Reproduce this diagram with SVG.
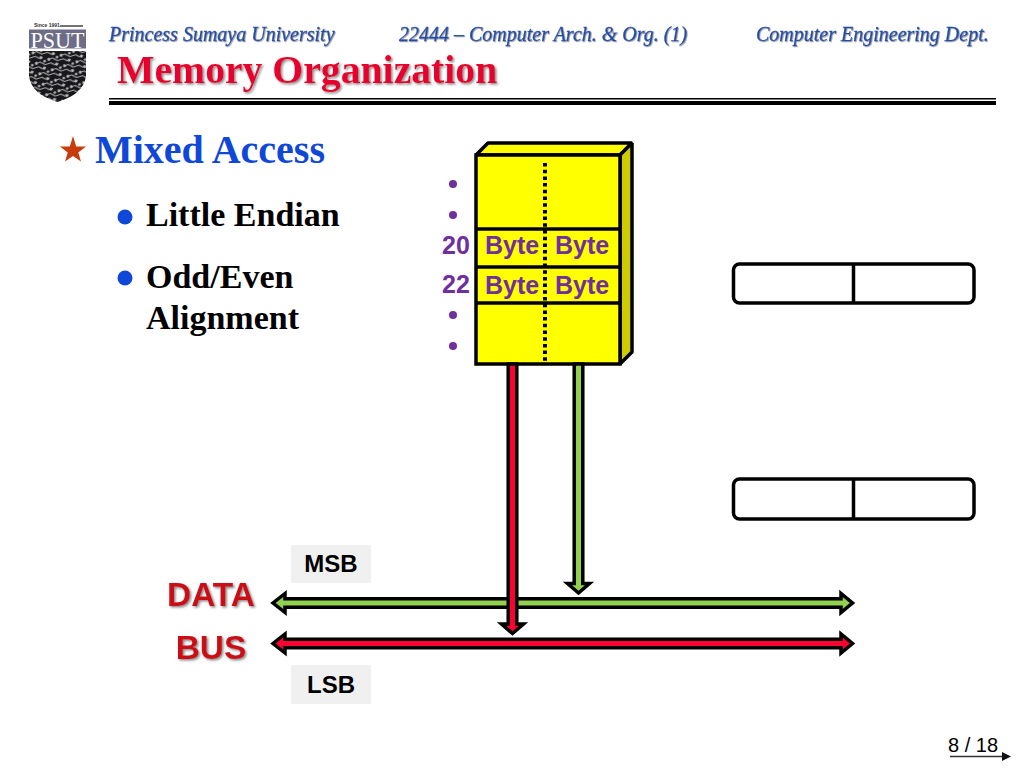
<svg xmlns="http://www.w3.org/2000/svg" width="1024" height="768" viewBox="0 0 1024 768">
<defs>
<filter id="sh" x="-5%" y="-20%" width="110%" height="140%"><feDropShadow dx="1.500" dy="1.500" stdDeviation="0.800" flood-color="#888"/></filter>
<filter id="soft" x="-5%" y="-20%" width="110%" height="140%"><feDropShadow dx="0.800" dy="0.800" stdDeviation="0.500" flood-color="#9a9a9a"/></filter>
<pattern id="circuit" width="13" height="11" patternUnits="userSpaceOnUse" patternTransform="rotate(-18 57 75)">
<rect width="13" height="11" fill="#17171b"/>
<path d="M1 2.500H6L10 6.500H13M0 6.500H3L6 9.500H10" fill="none" stroke="#a6a6a6" stroke-width="1.100"/>
<circle cx="2" cy="2.500" r="1.500" fill="#bdbdbd"/><circle cx="8" cy="9.500" r="1.500" fill="#bdbdbd"/><circle cx="10.500" cy="3" r="1.300" fill="#bdbdbd"/>
</pattern>
</defs>
<style>
.hdr{font:italic 400 20px "Liberation Serif",serif;fill:#1f4fa8;stroke:#1f4fa8;stroke-width:.3}
.bold{font-family:"Liberation Serif",serif;font-weight:700}
.sans{font-family:"Liberation Sans",sans-serif;font-weight:700}
.pur{fill:#6f2f9f;font-size:25px}
.arr{stroke:#000;stroke-width:3.500;stroke-linejoin:miter}
.reg{fill:#fff;stroke:#000;stroke-width:3.500}
.cell{stroke:#000;stroke-width:3.500}
</style>
<rect width="1024" height="768" fill="#fff"/>
<g id="logo">
<text x="34" y="27" font-family="Liberation Sans,sans-serif" font-weight="700" font-size="5" fill="#333">Since 1991</text>
<line x1="60" y1="26" x2="83" y2="26" stroke="#444" stroke-width="1.500"/>
<rect x="29" y="29.500" width="57" height="19" fill="#6d6d88"/>
<text x="57.500" y="47.500" text-anchor="middle" font-family="Liberation Serif,serif" font-size="23" textLength="54" lengthAdjust="spacingAndGlyphs" fill="#fff">PSUT</text>
<path d="M29 51H86V76Q84 94 57.500 102Q31 94 29 76Z" fill="url(#circuit)"/>
</g>
<g id="header">
<text class="hdr" x="109" y="41" filter="url(#soft)">Princess Sumaya University</text>
<text class="hdr" x="399" y="41" filter="url(#soft)">22444 – Computer Arch. &amp; Org. (1)</text>
<text class="hdr" x="756" y="41" filter="url(#soft)">Computer Engineering Dept.</text>
<text class="bold" x="117" y="83" font-size="39.700" fill="#e8002d" filter="url(#sh)">Memory Organization</text>
<rect x="109" y="98" width="887" height="1.500" fill="#000"/>
<rect x="109" y="101" width="887" height="4" fill="#000"/>
</g>
<g id="bullets">
<path d="M73 136L76.200 146.500H86L78.300 152.500L81 161.500L73 156L65 161.500L67.700 152.500L60 146.500H69.800Z" fill="#c83c0c"/>
<text class="bold" x="95" y="163" font-size="40" fill="#0f47d8">Mixed Access</text>
<circle cx="125" cy="217" r="7.500" fill="#0f47d8"/>
<text class="bold" x="146" y="226" font-size="34" fill="#000">Little Endian</text>
<circle cx="125" cy="278" r="7.500" fill="#0f47d8"/>
<text class="bold" x="146" y="288" font-size="34" fill="#000">Odd/Even</text>
<text class="bold" x="146" y="329" font-size="34" fill="#000">Alignment</text>
</g>
<g id="memory">
<path d="M476 155L488 143H632L620 155Z" fill="#ffff00" stroke="#000" stroke-width="3.500" stroke-linejoin="bevel"/>
<path d="M620 155L632 143V352L620 364Z" fill="#cccc00" stroke="#000" stroke-width="3.500" stroke-linejoin="bevel"/>
<rect x="476" y="155" width="144" height="209" fill="#ffff00" stroke="#000" stroke-width="3.500"/>
<line class="cell" x1="476" y1="229" x2="620" y2="229"/>
<line class="cell" x1="476" y1="267" x2="620" y2="267"/>
<line class="cell" x1="476" y1="303" x2="620" y2="303"/>
<line x1="545" y1="163" x2="545" y2="361" stroke="#000" stroke-width="4" stroke-dasharray="3.500 3.200"/>
<g class="sans pur">
<text x="442" y="254">20</text><text x="442" y="293">22</text>
<text x="485" y="254">Byte</text><text x="555" y="254">Byte</text>
<text x="485" y="294">Byte</text><text x="555" y="294">Byte</text>
</g>
<g fill="#6f2f9f"><circle cx="453" cy="184" r="4"/><circle cx="453" cy="215" r="4"/><circle cx="453" cy="315" r="4"/><circle cx="453" cy="346" r="4"/></g>
</g>
<g id="registers">
<rect class="reg" x="733.500" y="264" width="240.500" height="39" rx="6"/>
<line x1="853.500" y1="264" x2="853.500" y2="303" stroke="#000" stroke-width="3.500"/>
<rect class="reg" x="733.500" y="479" width="240.500" height="40" rx="6"/>
<line x1="853.500" y1="479" x2="853.500" y2="519" stroke="#000" stroke-width="3.500"/>
</g>
<g id="connectors">
<path class="arr" fill="#92d050" d="M285 598.800V593.500L273 603L285 612.500V607.200H841V612.500L852.500 603L841 593.500V598.800Z"/>
<path class="arr" fill="#ff0033" d="M285 639.300V634L273 643.500L285 653V647.700H841V653L852.500 643.500L841 634V639.300Z"/>
<path class="arr" fill="#92d050" d="M574.200 364V583.500H567.500L578.500 593L589.500 583.500H582.800V364Z"/>
<path class="arr" fill="#ff0033" d="M508.200 364V624H501.500L512.500 633.500L523.500 624H516.800V364Z"/>
<path d="M950 756.500H1002" stroke="#333" stroke-width="1.500"/>
<path d="M1002 752L1011 756.500L1002 761Z" fill="#111"/>
</g>
<g id="labels">
<rect x="291" y="545" width="80" height="38" fill="#f0f0f0"/>
<text class="sans" x="331" y="572" text-anchor="middle" font-size="24" fill="#000">MSB</text>
<rect x="291" y="665" width="80" height="39" fill="#f0f0f0"/>
<text class="sans" x="331" y="693" text-anchor="middle" font-size="24" fill="#000">LSB</text>
<text class="sans" x="211" y="606" text-anchor="middle" font-size="33.500" fill="#cc0f14" filter="url(#sh)">DATA</text>
<text class="sans" x="211" y="659" text-anchor="middle" font-size="33.500" fill="#cc0f14" filter="url(#sh)">BUS</text>
<text x="973" y="752" text-anchor="middle" font-family="Liberation Sans,sans-serif" font-size="20" fill="#000">8 / 18</text>
</g>
</svg>
